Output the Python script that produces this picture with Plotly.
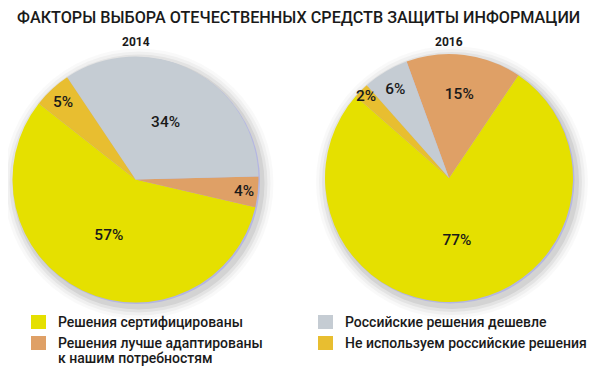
import plotly.graph_objects as go

# page body has an 8px margin: figure is drawn at (8, 8) in the window
OFF = 8
W, H = 600 - OFF, 372 - OFF

title = "ФАКТОРЫ ВЫБОРА ОТЕЧЕСТВЕННЫХ СРЕДСТВ ЗАЩИТЫ ИНФОРМАЦИИ"
categories = [
    "Решения сертифицированы",
    "Решения лучше адаптированы<br>к нашим потребностям",
    "Российские решения дешевле",
    "Не используем российские решения",
]
years = ["2014", "2016"]
values_2014 = [57, 4, 34, 5]
values_2016 = [77, 15, 6, 2]
colors = ["#E5E000", "#DFA066", "#C5CCD3", "#E8BE30"]

# pixel geometry of the two pies: (center x, center y, radius, rotation)
pies = [
    (135.5, 179.5, 123, 103, values_2014),
    (449, 178, 124, 34, values_2016),
]

def px(x):
    return (x - OFF) / W

def py(y):
    return 1 - (y - OFF) / H

fig = go.Figure()
shapes = []
annotations = []
FONT = "Roboto, Liberation Sans, sans-serif"

for (cx, cy, r, rot, vals), yr in zip(pies, years):
    # soft shadow
    for k, op in [(12, 0.025), (9, 0.035), (6, 0.05), (3, 0.07)]:
        ox, oy = 3, 4
        shapes.append(dict(type="circle", xref="paper", yref="paper", layer="below",
                           x0=px(cx + ox - r - k), x1=px(cx + ox + r + k),
                           y0=py(cy + oy + r + k), y1=py(cy + oy - r - k),
                           fillcolor=f"rgba(0,0,0,{op})", line=dict(width=0)))
    shapes.append(dict(type="circle", xref="paper", yref="paper", layer="below",
                       x0=px(cx - r + 1), x1=px(cx + r + 1.5),
                       y0=py(cy + r + 1.5), y1=py(cy - r + 1),
                       fillcolor="#B4B6E2", line=dict(width=0)))
    fig.add_trace(go.Pie(
        labels=[c.replace("<br>", " ") for c in categories],
        values=vals,
        sort=False,
        direction="counterclockwise",
        rotation=rot,
        marker=dict(colors=colors, line=dict(width=0)),
        texttemplate="%{value}%",
        textposition="inside",
        insidetextorientation="horizontal",
        textfont=dict(family=FONT, size=16, color="#1a1a1a", weight=500),
        hoverinfo="label+percent",
        showlegend=False,
        domain=dict(x=[px(cx - r), px(cx + r)], y=[py(cy + r), py(cy - r)]),
    ))
    annotations.append(dict(text=yr, x=px(cx), y=py(42), xref="paper", yref="paper",
                            showarrow=False, xanchor="center", yanchor="middle",
                            font=dict(family=FONT, size=12, color="#1a1a1a", weight=700)))

annotations.append(dict(text=title, x=px(298), y=py(17), xref="paper", yref="paper",
                        showarrow=False, xanchor="center", yanchor="middle",
                        font=dict(family=FONT, size=16.2, color="#1a1a1a", weight=500)))

# legend (manual)
leg_pos = [(31, 322), (31, 343), (318, 322), (318, 343)]
for (lx, ly), cat, col in zip(leg_pos, categories, colors):
    shapes.append(dict(type="rect", xref="paper", yref="paper",
                       x0=px(lx), x1=px(lx + 15), y0=py(ly + 7), y1=py(ly - 7),
                       fillcolor=col, line=dict(width=0)))
    for i, line in enumerate(cat.split("<br>")):
        annotations.append(dict(text=line, x=px(lx + 25), y=py(ly + i * 14.5), xref="paper", yref="paper",
                                showarrow=False, xanchor="left", yanchor="middle", align="left",
                                font=dict(family=FONT, size=14, color="#1a1a1a", weight=500)))

fig.update_layout(
    width=W, height=H,
    margin=dict(l=0, r=0, t=0, b=0),
    paper_bgcolor="white", plot_bgcolor="white",
    shapes=shapes, annotations=annotations,
    uniformtext=dict(minsize=15, mode="show"),
)
fig.write_html("out.html")
